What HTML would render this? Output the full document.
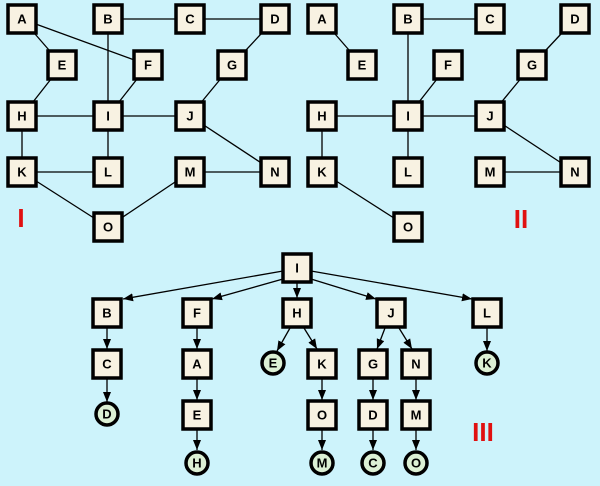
<!DOCTYPE html>
<html><head><meta charset="utf-8"><style>
html,body{margin:0;padding:0;background:#cdf3fb;}
svg{display:block}
text{font-family:"Liberation Sans",sans-serif;font-weight:bold;font-size:13px;text-anchor:middle;dominant-baseline:central;fill:#000}
.b rect{fill:#f8f2e2;stroke:#000;stroke-width:3.5}
.c circle{fill:#dcf0d4;stroke:#000;stroke-width:3.5}
line{stroke:#000;stroke-width:1.3}
.r{fill:#e01010;font-size:26px;font-weight:bold}
</style></head><body>
<svg width="600" height="486" viewBox="0 0 600 486">
<defs><marker id="ah" markerWidth="10" markerHeight="8" refX="10" refY="4" orient="auto" markerUnits="userSpaceOnUse"><path d="M0,0 L10,4 L0,8 z" fill="#000"/></marker></defs>
<rect width="600" height="486" fill="#cdf3fb"/>
<!-- Graph I edges -->
<g>
<line x1="22" y1="19" x2="62" y2="65"/><line x1="22" y1="19" x2="148" y2="65"/>
<line x1="108" y1="19" x2="275" y2="19"/><line x1="108" y1="19" x2="108" y2="172"/>
<line x1="62" y1="65" x2="22" y2="116"/><line x1="148" y1="65" x2="108" y2="116"/>
<line x1="275" y1="19" x2="232" y2="65"/><line x1="232" y1="65" x2="190" y2="116"/>
<line x1="22" y1="116" x2="190" y2="116"/><line x1="190" y1="116" x2="275" y2="172"/>
<line x1="22" y1="116" x2="22" y2="172"/><line x1="22" y1="172" x2="108" y2="172"/>
<line x1="190" y1="172" x2="275" y2="172"/><line x1="22" y1="172" x2="108" y2="227"/>
<line x1="190" y1="172" x2="108" y2="227"/>
</g>
<!-- Graph II edges -->
<g>
<line x1="322" y1="19" x2="362" y2="65"/>
<line x1="408" y1="19" x2="490" y2="19"/><line x1="408" y1="19" x2="408" y2="172"/>
<line x1="448" y1="65" x2="408" y2="116"/>
<line x1="575" y1="19" x2="532" y2="65"/><line x1="532" y1="65" x2="490" y2="116"/>
<line x1="322" y1="116" x2="490" y2="116"/><line x1="490" y1="116" x2="575" y2="172"/>
<line x1="322" y1="116" x2="322" y2="172"/>
<line x1="490" y1="172" x2="575" y2="172"/><line x1="322" y1="172" x2="408" y2="227"/>
</g>
<!-- Graph I nodes -->
<g class="b">
<rect x="8" y="5" width="28" height="28"/><text x="22" y="19">A</text>
<rect x="94" y="5" width="28" height="28"/><text x="108" y="19">B</text>
<rect x="176" y="5" width="28" height="28"/><text x="190" y="19">C</text>
<rect x="261" y="5" width="28" height="28"/><text x="275" y="19">D</text>
<rect x="48" y="51" width="28" height="28"/><text x="62" y="65">E</text>
<rect x="134" y="51" width="28" height="28"/><text x="148" y="65">F</text>
<rect x="218" y="51" width="28" height="28"/><text x="232" y="65">G</text>
<rect x="8" y="102" width="28" height="28"/><text x="22" y="116">H</text>
<rect x="94" y="102" width="28" height="28"/><text x="108" y="116">I</text>
<rect x="176" y="102" width="28" height="28"/><text x="190" y="116">J</text>
<rect x="8" y="158" width="28" height="28"/><text x="22" y="172">K</text>
<rect x="94" y="158" width="28" height="28"/><text x="108" y="172">L</text>
<rect x="176" y="158" width="28" height="28"/><text x="190" y="172">M</text>
<rect x="261" y="158" width="28" height="28"/><text x="275" y="172">N</text>
<rect x="94" y="213" width="28" height="28"/><text x="108" y="227">O</text>
</g>
<!-- Graph II nodes -->
<g class="b">
<rect x="308" y="5" width="28" height="28"/><text x="322" y="19">A</text>
<rect x="394" y="5" width="28" height="28"/><text x="408" y="19">B</text>
<rect x="476" y="5" width="28" height="28"/><text x="490" y="19">C</text>
<rect x="561" y="5" width="28" height="28"/><text x="575" y="19">D</text>
<rect x="348" y="51" width="28" height="28"/><text x="362" y="65">E</text>
<rect x="434" y="51" width="28" height="28"/><text x="448" y="65">F</text>
<rect x="518" y="51" width="28" height="28"/><text x="532" y="65">G</text>
<rect x="308" y="102" width="28" height="28"/><text x="322" y="116">H</text>
<rect x="394" y="102" width="28" height="28"/><text x="408" y="116">I</text>
<rect x="476" y="102" width="28" height="28"/><text x="490" y="116">J</text>
<rect x="308" y="158" width="28" height="28"/><text x="322" y="172">K</text>
<rect x="394" y="158" width="28" height="28"/><text x="408" y="172">L</text>
<rect x="476" y="158" width="28" height="28"/><text x="490" y="172">M</text>
<rect x="561" y="158" width="28" height="28"/><text x="575" y="172">N</text>
<rect x="394" y="213" width="28" height="28"/><text x="408" y="227">O</text>
</g>
<text class="r" x="21" y="218">I</text>
<text class="r" x="521" y="219">II</text>
<text class="r" x="483" y="432">III</text>
<!-- Tree arrows -->
<g marker-end="url(#ah)">
<line x1="283" y1="271" x2="123" y2="299"/>
<line x1="283" y1="279" x2="212" y2="299"/>
<line x1="297" y1="283" x2="297" y2="298"/>
<line x1="311" y1="279" x2="376" y2="299"/>
<line x1="311" y1="271" x2="472" y2="299"/>
<line x1="107" y1="328" x2="107" y2="349"/>
<line x1="107" y1="379" x2="107" y2="402"/>
<line x1="197" y1="328" x2="197" y2="349"/>
<line x1="197" y1="379" x2="197" y2="400"/>
<line x1="197" y1="430" x2="197" y2="450"/>
<line x1="290" y1="328" x2="277" y2="351"/>
<line x1="304" y1="328" x2="317" y2="349"/>
<line x1="322" y1="379" x2="322" y2="400"/>
<line x1="322" y1="430" x2="322" y2="450"/>
<line x1="385" y1="328" x2="377" y2="349"/>
<line x1="399" y1="328" x2="412" y2="349"/>
<line x1="373" y1="379" x2="373" y2="400"/>
<line x1="373" y1="430" x2="373" y2="450"/>
<line x1="416" y1="379" x2="416" y2="400"/>
<line x1="416" y1="430" x2="416" y2="450"/>
<line x1="487" y1="328" x2="487" y2="351"/>
</g>
<!-- Tree boxes -->
<g class="b">
<rect x="283" y="254" width="28" height="28"/><text x="297" y="268">I</text>
<rect x="93" y="299" width="28" height="28"/><text x="107" y="313">B</text>
<rect x="183" y="299" width="28" height="28"/><text x="197" y="313">F</text>
<rect x="283" y="299" width="28" height="28"/><text x="297" y="313">H</text>
<rect x="377" y="299" width="28" height="28"/><text x="391" y="313">J</text>
<rect x="473" y="299" width="28" height="28"/><text x="487" y="313">L</text>
<rect x="93" y="350" width="28" height="28"/><text x="107" y="364">C</text>
<rect x="183" y="350" width="28" height="28"/><text x="197" y="364">A</text>
<rect x="308" y="350" width="28" height="28"/><text x="322" y="364">K</text>
<rect x="359" y="350" width="28" height="28"/><text x="373" y="364">G</text>
<rect x="402" y="350" width="28" height="28"/><text x="416" y="364">N</text>
<rect x="183" y="401" width="28" height="28"/><text x="197" y="415">E</text>
<rect x="308" y="401" width="28" height="28"/><text x="322" y="415">O</text>
<rect x="359" y="401" width="28" height="28"/><text x="373" y="415">D</text>
<rect x="402" y="401" width="28" height="28"/><text x="416" y="415">M</text>
</g>
<g class="c">
<circle cx="273" cy="363" r="11"/><text x="273" y="363">E</text>
<circle cx="487" cy="363" r="11"/><text x="487" y="363">K</text>
<circle cx="107" cy="414" r="11"/><text x="107" y="414">D</text>
<circle cx="197" cy="463" r="11"/><text x="197" y="463">H</text>
<circle cx="322" cy="463" r="11"/><text x="322" y="463">M</text>
<circle cx="373" cy="463" r="11"/><text x="373" y="463">C</text>
<circle cx="416" cy="463" r="11"/><text x="416" y="463">O</text>
</g>
</svg>
</body></html>
